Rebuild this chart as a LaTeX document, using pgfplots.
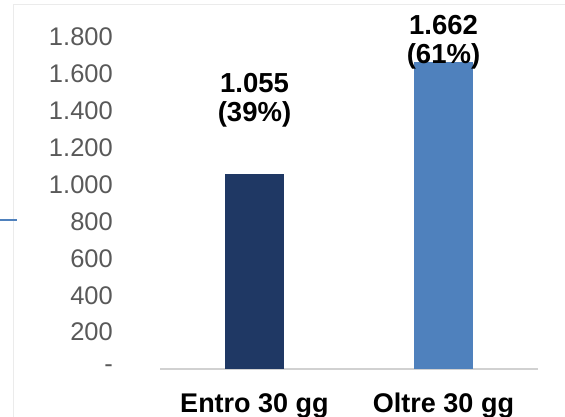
\documentclass[border=0pt]{standalone}
\usepackage{fontspec}
\setmainfont{Liberation Sans}
\usepackage{pgfplots}
\pgfplotsset{compat=1.18}
\definecolor{darkbar}{RGB}{31,56,100}
\definecolor{lightbar}{RGB}{79,129,189}
\definecolor{ticktxt}{RGB}{89,89,89}
\begin{document}
\begin{tikzpicture}
\useasboundingbox (0,0) rectangle (565bp,417bp);
% faint frame of the original slide
\draw[black!8, line width=0.8bp] (13bp,0) -- (13bp,413bp) -- (565bp,413bp);
\draw[lightbar, line width=2bp] (0,197bp) -- (17bp,197bp);
\begin{axis}[
    at={(160bp,48bp)}, anchor=south west,
    scale only axis, width=378bp, height=332bp,
    xmin=-0.5, xmax=1.5, ymin=0, ymax=1800,
    clip=false,
    axis lines*=left,
    y axis line style={draw=none},
    x axis line style={draw=black!18, line width=1.5bp},
    major tick length=0pt,
    xtick={0,1}, xticklabels={Entro 30 gg, Oltre 30 gg},
    xticklabel style={font=\fontsize{27bp}{30bp}\selectfont\bfseries, anchor=north, inner sep=0pt, yshift=-24bp},
    ytick={0,200,...,1800},
    yticklabels={-\hspace{15bp},200,400,600,800,1.000,1.200,1.400,1.600,1.800},
    yticklabel style={font=\fontsize{25.5bp}{28bp}\selectfont, text=ticktxt, anchor=east, inner sep=0pt, xshift=-47bp},
    /pgf/number format/assume math mode=true,
    ybar, bar width=59bp,
    every node near coord/.append style={font=\fontsize{27.5bp}{29bp}\selectfont\bfseries, align=center, anchor=south, inner sep=0pt, text=black},
  ]
  \addplot[bar shift=0pt, fill=darkbar, draw=none,
    nodes near coords={1.055\\(39\%)},
    every node near coord/.append style={yshift=47bp}] coordinates {(0,1055)};
  \addplot[bar shift=0pt, fill=lightbar, draw=none,
    nodes near coords={1.662\\(61\%)},
    every node near coord/.append style={yshift=-7bp}] coordinates {(1,1662)};
\end{axis}
\end{tikzpicture}
\end{document}
